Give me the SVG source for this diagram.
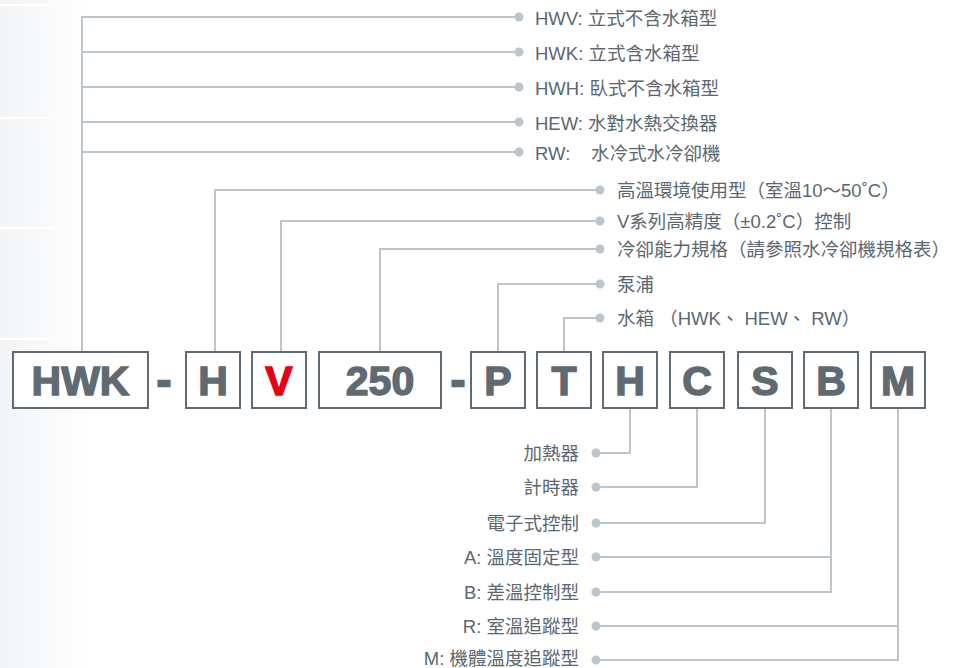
<svg xmlns="http://www.w3.org/2000/svg" width="971" height="668" viewBox="0 0 971 668">
<defs>
<linearGradient id="side" x1="0" y1="0" x2="1" y2="0">
<stop offset="0" stop-color="#f2f4f6"/>
<stop offset="1" stop-color="#ffffff"/>
</linearGradient>
<style>
.ln{fill:none;stroke:#bcc5cc;stroke-width:2}
.dot{fill:#bcc5cc}
.box{fill:#ffffff;stroke:#5f6a72;stroke-width:2}
.code{font-family:"Liberation Sans",Arial,sans-serif;font-weight:bold;font-size:41px;fill:#5f6a72;stroke:#5f6a72;stroke-width:1.4;text-anchor:middle}
.red{fill:#e60012;stroke:#e60012}
.dash{font-size:42px;stroke-width:2.4}
.lbl{font-family:"Liberation Sans","Noto Sans CJK TC",sans-serif;font-size:18.5px;fill:#5b6770}
.rt{text-anchor:end}
</style>
</defs>
<rect x="0" y="0" width="971" height="668" fill="#ffffff"/>
<rect x="0" y="0" width="90" height="668" fill="url(#side)"/>
<g stroke="#ffffff" stroke-width="2">
<line x1="0" y1="5" x2="52" y2="5"/>
<line x1="0" y1="118" x2="52" y2="118"/>
<line x1="0" y1="228" x2="52" y2="228"/>
<line x1="0" y1="339" x2="52" y2="339"/>
</g>
<g id="connectors">
<path class="ln" d="M82 352 V17 H519"/>
<path class="ln" d="M82 52 H519 M82 87 H519 M82 122 H519 M82 152 H519"/>
<path class="ln" d="M215 352 V190 H600"/>
<path class="ln" d="M281 352 V221 H600"/>
<path class="ln" d="M380 352 V249 H600"/>
<path class="ln" d="M498 352 V284 H600"/>
<path class="ln" d="M564 352 V318 H600"/>
<path class="ln" d="M630 408 V453 H596"/>
<path class="ln" d="M697 408 V487 H596"/>
<path class="ln" d="M765 408 V523 H596"/>
<path class="ln" d="M831 408 V592 H596 M831 557 H596"/>
<path class="ln" d="M898 408 V660 H596 M898 626 H596"/>
<g class="dot">
<circle cx="519" cy="17" r="4.5"/><circle cx="519" cy="52" r="4.5"/><circle cx="519" cy="87" r="4.5"/><circle cx="519" cy="122" r="4.5"/><circle cx="519" cy="152" r="4.5"/>
<circle cx="600" cy="190" r="4.5"/><circle cx="600" cy="221" r="4.5"/><circle cx="600" cy="249" r="4.5"/><circle cx="600" cy="284" r="4.5"/><circle cx="600" cy="318" r="4.5"/>
<circle cx="596" cy="453" r="4.5"/><circle cx="596" cy="487" r="4.5"/><circle cx="596" cy="523" r="4.5"/><circle cx="596" cy="557" r="4.5"/><circle cx="596" cy="592" r="4.5"/><circle cx="596" cy="626" r="4.5"/><circle cx="596" cy="660" r="4.5"/>
</g>
</g>
<g id="box-HWK"><rect class="box" x="13" y="352" width="135" height="56"/><text class="code" x="80.5" y="395">HWK</text></g>
<g id="dash-1"><text class="code dash" x="164" y="395">-</text></g>
<g id="box-H1"><rect class="box" x="186" y="352" width="54" height="56"/><text class="code" x="213" y="395">H</text></g>
<g id="box-V"><rect class="box" x="252" y="352" width="54" height="56"/><text class="code red" x="279" y="395">V</text></g>
<g id="box-250"><rect class="box" x="319" y="352" width="122" height="56"/><text class="code" x="380" y="395">250</text></g>
<g id="dash-2"><text class="code dash" x="458" y="395">-</text></g>
<g id="box-P"><rect class="box" x="471" y="352" width="54" height="56"/><text class="code" x="498" y="395">P</text></g>
<g id="box-T"><rect class="box" x="537" y="352" width="54" height="56"/><text class="code" x="564" y="395">T</text></g>
<g id="box-H2"><rect class="box" x="603" y="352" width="54" height="56"/><text class="code" x="630" y="395">H</text></g>
<g id="box-C"><rect class="box" x="670" y="352" width="54" height="56"/><text class="code" x="697" y="395">C</text></g>
<g id="box-S"><rect class="box" x="738" y="352" width="54" height="56"/><text class="code" x="765" y="395">S</text></g>
<g id="box-B"><rect class="box" x="804" y="352" width="54" height="56"/><text class="code" x="831" y="395">B</text></g>
<g id="box-M"><rect class="box" x="871" y="352" width="54" height="56"/><text class="code" x="898" y="395">M</text></g>
<g id="label-HWV"><text class="lbl" x="535" y="25">HWV: 立式不含水箱型</text></g>
<g id="label-HWK"><text class="lbl" x="535" y="60">HWK: 立式含水箱型</text></g>
<g id="label-HWH"><text class="lbl" x="535" y="95">HWH: 臥式不含水箱型</text></g>
<g id="label-HEW"><text class="lbl" x="535" y="130">HEW: 水對水熱交換器</text></g>
<g id="label-RW"><text class="lbl" x="535" y="160">RW:<tspan x="591">水冷式水冷卻機</tspan></text></g>
<g id="label-high"><text class="lbl" x="617" y="196.5">高溫環境使用型（室溫10～50˚C）</text></g>
<g id="label-vseries"><text class="lbl" x="617" y="227.5">V系列高精度（±0.2˚C）控制</text></g>
<g id="label-capacity"><text class="lbl" x="617" y="255.5">冷卻能力規格（請參照水冷卻機規格表）</text></g>
<g id="label-pump"><text class="lbl" x="617" y="290.5">泵浦</text></g>
<g id="label-tank"><text class="lbl" x="617" y="324.5">水箱 （HWK、 HEW、 RW）</text></g>
<g id="label-heater"><text class="lbl rt" x="579" y="459.5">加熱器</text></g>
<g id="label-timer"><text class="lbl rt" x="579" y="493.5">計時器</text></g>
<g id="label-ectrl"><text class="lbl rt" x="579" y="529.5">電子式控制</text></g>
<g id="label-A"><text class="lbl rt" x="579" y="563.5">A: 溫度固定型</text></g>
<g id="label-B"><text class="lbl rt" x="579" y="598.5">B: 差溫控制型</text></g>
<g id="label-R"><text class="lbl rt" x="579" y="632.5">R: 室溫追蹤型</text></g>
<g id="label-M"><text class="lbl rt" x="579" y="665">M: 機體溫度追蹤型</text></g>
</svg>
